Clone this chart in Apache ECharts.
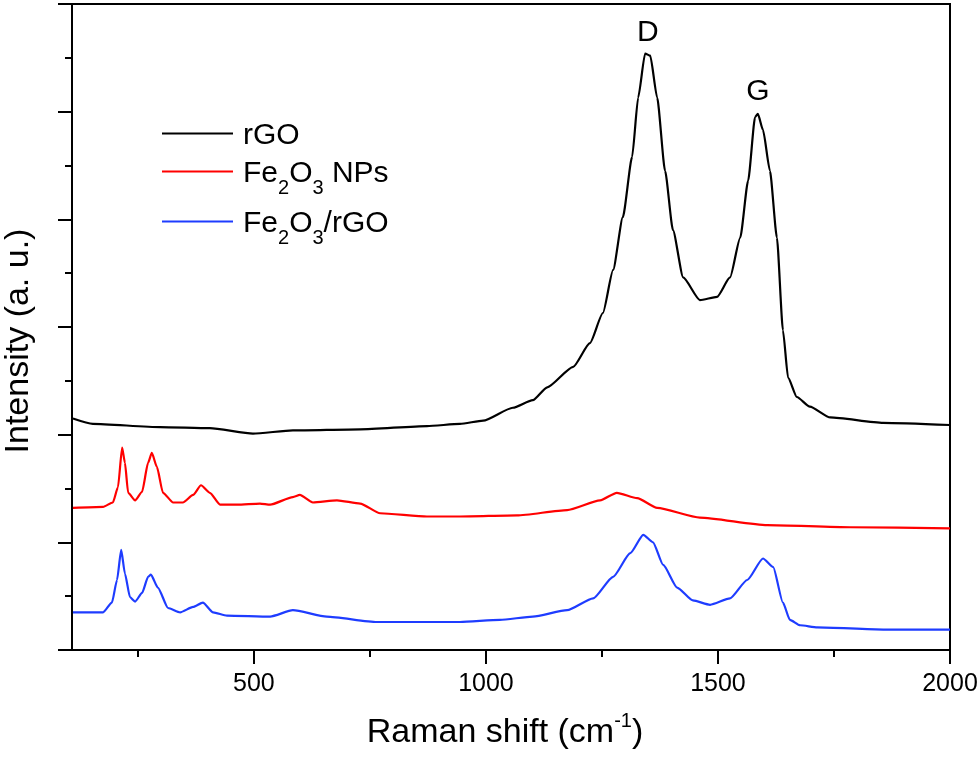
<!DOCTYPE html>
<html>
<head>
<meta charset="utf-8">
<title>Raman spectra</title>
<script src="https://cdn.jsdelivr.net/npm/echarts@6.0.0/dist/echarts.min.js"></script>
<style>
  html, body { margin: 0; padding: 0; background: #fff; }
  #chart { width: 980px; height: 759px; }
</style>
</head>
<body>
<div id="chart"></div>
<script>
// spectra (x: Raman shift in cm-1, y: offset intensity, a.u.)
var rgoX = [110, 153, 298, 405, 498, 584, 729, 873, 944, 994, 1058, 1101, 1132, 1188, 1224, 1252, 1274, 1295, 1315, 1328, 1343, 1354, 1369, 1386, 1403, 1425, 1461, 1498, 1526, 1548, 1565, 1580, 1586, 1597, 1612, 1627, 1640, 1651, 1670, 1698, 1742, 1856, 2000];
var rgoY = [2.15, 2.10, 2.07, 2.06, 2.01, 2.04, 2.05, 2.08, 2.10, 2.13, 2.25, 2.32, 2.44, 2.63, 2.85, 3.13, 3.53, 4.02, 4.58, 5.13, 5.54, 5.52, 5.13, 4.45, 3.90, 3.46, 3.25, 3.28, 3.46, 3.83, 4.36, 4.95, 4.98, 4.83, 4.45, 3.83, 2.97, 2.53, 2.35, 2.26, 2.16, 2.11, 2.09];

var feX = [110, 175, 196, 207, 216, 222, 229, 244, 259, 272, 280, 291, 304, 326, 347, 369, 386, 405, 427, 464, 513, 535, 584, 599, 627, 679, 729, 772, 873, 944, 1067, 1175, 1246, 1282, 1326, 1369, 1461, 1606, 1785, 2000];
var feY = [1.32, 1.33, 1.37, 1.51, 1.88, 1.74, 1.46, 1.39, 1.47, 1.74, 1.83, 1.70, 1.46, 1.37, 1.37, 1.44, 1.53, 1.46, 1.35, 1.35, 1.36, 1.35, 1.42, 1.44, 1.37, 1.39, 1.36, 1.27, 1.24, 1.24, 1.25, 1.30, 1.39, 1.46, 1.41, 1.32, 1.23, 1.16, 1.14, 1.13];

var compX = [110, 175, 194, 205, 214, 222, 233, 244, 259, 272, 278, 293, 315, 341, 369, 390, 412, 442, 535, 584, 657, 765, 944, 1030, 1101, 1175, 1231, 1274, 1311, 1339, 1360, 1382, 1412, 1446, 1483, 1526, 1563, 1597, 1619, 1640, 1655, 1677, 1714, 1856, 2000];
var compY = [0.35, 0.35, 0.44, 0.65, 0.93, 0.71, 0.49, 0.45, 0.53, 0.68, 0.70, 0.58, 0.39, 0.35, 0.40, 0.44, 0.35, 0.32, 0.31, 0.37, 0.31, 0.26, 0.26, 0.28, 0.31, 0.37, 0.48, 0.68, 0.90, 1.07, 1.00, 0.79, 0.58, 0.46, 0.42, 0.48, 0.65, 0.85, 0.77, 0.44, 0.28, 0.23, 0.21, 0.19, 0.19];

var seriesNames = ['rGO', 'Fe2O3 NPs', 'Fe2O3/rGO'];
var seriesColors = ['#000000', '#ff0000', '#1e3cff'];
var xTicks = [500, 1000, 1500, 2000];
var xMinorTicks = [250, 750, 1250, 1750];
var peakNames = ['D', 'G'];
var peakX = [1349, 1586];

var FONT = '"Liberation Sans", Arial, sans-serif';

function pairs(xs, ys) {
    return xs.map(function (x, i) { return [x, ys[i]]; });
}

// y of the rGO curve at the point nearest a given shift
function rgoAt(x) {
    var best = 0;
    for (var i = 1; i < rgoX.length; i++) {
        if (Math.abs(rgoX[i] - x) < Math.abs(rgoX[best] - x)) best = i;
    }
    return rgoY[best];
}

// legend labels, subscripts done with rich text
var legendText = {
    'rGO': '{f|rGO}',
    'Fe2O3 NPs': '{f|Fe}{s|2}{n|O}{s|3}{n| NPs}',
    'Fe2O3/rGO': '{f|Fe}{s|2}{n|O}{s|3}{n|/rGO}'
};
var legendTop = [116, 154, 204];

var chart = echarts.init(document.getElementById('chart'));

function lineSeries(name, data, color) {
    return {
        name: name,
        type: 'line',
        data: data,
        symbol: 'none',
        smooth: 0.2,
        smoothMonotone: 'x',
        lineStyle: { color: color, width: 2.2 },
        itemStyle: { color: color },
        emphasis: { disabled: true }
    };
}

var rgoSeries = lineSeries(seriesNames[0], pairs(rgoX, rgoY), seriesColors[0]);
rgoSeries.markPoint = {
    symbol: 'circle',
    symbolSize: 1,
    itemStyle: { color: 'rgba(0,0,0,0)' },
    label: {
        show: true,
        position: 'top',
        distance: 7,
        formatter: '{b}',
        color: '#000',
        fontSize: 30,
        fontFamily: FONT
    },
    data: peakNames.map(function (n, i) {
        return { name: n, coord: [peakX[i], rgoAt(peakX[i])] };
    })
};

var legends = seriesNames.map(function (name, i) {
    return {
        orient: 'vertical',
        left: 162,
        top: legendTop[i],
        padding: 0,
        icon: 'rect',
        itemWidth: 71,
        itemHeight: 2,
        selectedMode: false,
        data: [name],
        formatter: function (n) { return legendText[n]; },
        textStyle: {
            color: '#000',
            fontFamily: FONT,
            rich: {
                f: { fontSize: 30, lineHeight: 30, padding: [5, 0, 0, 5], fontFamily: FONT, color: '#000' },
                n: { fontSize: 30, lineHeight: 30, padding: [5, 0, 0, 0], fontFamily: FONT, color: '#000' },
                s: { fontSize: 20, padding: [34, 0, 0, 0], fontFamily: FONT, color: '#000' }
            }
        }
    };
});

var option = {
    animation: false,
    backgroundColor: '#fff',
    grid: {
        left: 72, right: 30, top: 4, bottom: 109,
        containLabel: false,
        outerBoundsMode: 'none',
        show: true,
        borderColor: '#000',
        borderWidth: 2
    },
    legend: legends,
    xAxis: [{
        type: 'value',
        min: 108,
        max: 2000,
        position: 'bottom',
        axisLine: { show: true, onZero: false, lineStyle: { color: '#000', width: 2 } },
        axisTick: { show: true, customValues: xTicks, length: 14, lineStyle: { color: '#000', width: 2 } },
        axisLabel: {
            customValues: xTicks,
            formatter: function (v) { return String(v); },
            color: '#000', fontSize: 25, fontFamily: FONT, margin: 22
        },
        splitLine: { show: false },
        name: '{n|Raman shift (cm}{sup|-1}{n|)}',
        nameLocation: 'middle',
        nameGap: 61,
        nameTextStyle: {
            padding: [0, 12, 0, 0],
            rich: {
                n: { fontSize: 34, lineHeight: 38, fontFamily: FONT, color: '#000' },
                sup: { fontSize: 20, padding: [0, 0, 24, 0], fontFamily: FONT, color: '#000' }
            }
        }
    }, {
        type: 'value',
        min: 108,
        max: 2000,
        position: 'bottom',
        axisLine: { show: false },
        axisTick: { show: true, customValues: xMinorTicks, length: 7, lineStyle: { color: '#000', width: 2 } },
        axisLabel: { show: false },
        splitLine: { show: false }
    }],
    yAxis: {
        type: 'value',
        min: 0,
        max: 6,
        interval: 1,
        axisLine: { show: true, onZero: false, lineStyle: { color: '#000', width: 2 } },
        axisTick: { show: true, length: 14, lineStyle: { color: '#000', width: 2 } },
        minorTick: { show: true, splitNumber: 2, length: 7, lineStyle: { color: '#000', width: 2 } },
        axisLabel: { show: false },
        splitLine: { show: false },
        minorSplitLine: { show: false },
        name: 'Intensity (a. u.)',
        nameLocation: 'middle',
        nameRotate: 90,
        nameGap: 36,
        nameTextStyle: { fontSize: 34, fontFamily: FONT, color: '#000', padding: [0, 28, 0, 0] }
    },
    series: [
        rgoSeries,
        lineSeries(seriesNames[1], pairs(feX, feY), seriesColors[1]),
        lineSeries(seriesNames[2], pairs(compX, compY), seriesColors[2])
    ]
};

chart.setOption(option);
</script>
</body>
</html>
